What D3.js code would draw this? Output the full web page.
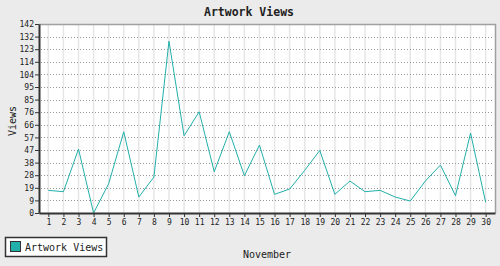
<!DOCTYPE html>
<html>
<head>
<meta charset="utf-8">
<script src="https://cdn.jsdelivr.net/npm/d3@7"></script>
<style>
  body { margin: 0; background: #ebebeb; }
  svg { display: block; }
  text { font-family: "DejaVu Sans Mono", monospace; fill: #222; }
</style>
</head>
<body>
<svg id="chart" width="500" height="266"></svg>
<script>
const days = d3.range(1, 31);
const views = [17, 16, 48, 0, 22, 61, 12, 27, 129, 58, 76, 31, 61, 28, 51,
               14, 18, 32, 47, 14, 24, 16, 17, 12, 9, 24, 36, 13, 60, 8];
const seriesName = "Artwork Views";
const chartTitle = "Artwork Views";
const xTitle = "November";
const yTitle = "Views";
const yTickCount = 15;

const width = 500, height = 266;
const plot = { left: 39, top: 24, right: 495, bottom: 213 };
const lineColor = "#22b0ab";

const svg = d3.select("#chart");

svg.append("rect")
  .attr("width", width).attr("height", height)
  .attr("fill", "#ebebeb");

svg.append("rect")
  .attr("x", plot.left).attr("y", plot.top)
  .attr("width", plot.right - plot.left)
  .attr("height", plot.bottom - plot.top)
  .attr("fill", "#fff");

var x = d3.scalePoint()
  .domain(days)
  .range([plot.left, plot.right])
  .padding(0.62);

// top of the axis is 10% above the largest value
var yMax = d3.max(views) * 1.1;
var y = d3.scaleLinear()
  .domain([0, yMax])
  .range([plot.bottom, plot.top]);
var yTicks = d3.range(yTickCount + 1).map(i => yMax * i / yTickCount);

// vertical grid
svg.append("g")
  .selectAll("line")
  .data(days)
  .enter()
  .append("line")
  .attr("x1", d => x(d)).attr("x2", d => x(d))
  .attr("y1", plot.top).attr("y2", plot.bottom)
  .attr("stroke", "#e6e6e6")
  .attr("stroke-width", 1.5);

// horizontal dotted grid
svg.append("g")
  .selectAll("line")
  .data(yTicks.slice(1, -1))
  .enter()
  .append("line")
  .attr("x1", plot.left + 2).attr("x2", plot.right - 3)
  .attr("y1", d => Math.round(y(d)) + 0.5).attr("y2", d => Math.round(y(d)) + 0.5)
  .attr("stroke", "#999")
  .attr("stroke-dasharray", "1,2");

// frame: top and right in grey
svg.append("path")
  .attr("d", `M${plot.left},${plot.top + 0.5}H${plot.right + 0.5}V${plot.bottom}`)
  .attr("fill", "none")
  .attr("stroke", "#a0a0a0")
  .attr("stroke-width", 1.5);

// the series
var line = d3.line()
  .x((d, i) => x(days[i]))
  .y(d => y(d));

svg.append("path")
  .datum(views)
  .attr("d", line)
  .attr("fill", "none")
  .attr("stroke", lineColor)
  .attr("stroke-width", 1);

// axes
var yAxis = svg.append("g")
  .attr("transform", `translate(${plot.left},0)`)
  .call(d3.axisLeft(y).tickValues(yTicks).tickFormat(d3.format(".0f")).tickSize(4).tickSizeOuter(0));

var xAxis = svg.append("g")
  .attr("transform", `translate(0,${plot.bottom})`)
  .call(d3.axisBottom(x).tickSize(4).tickSizeOuter(0));

[yAxis, xAxis].forEach(function(g) {
  g.select(".domain").attr("stroke", "#333").attr("stroke-width", 2);
  g.selectAll(".tick line").attr("stroke", "#333");
  g.selectAll("text")
    .style("font-family", '"DejaVu Sans Mono", monospace')
    .style("font-size", "8px")
    .attr("fill", "#222");
});
yAxis.selectAll("text").attr("x", -5).attr("dy", "0.33em");
xAxis.selectAll("text").attr("y", 6).attr("dy", "0.71em");

// titles
svg.append("text")
  .attr("x", 249).attr("y", 16)
  .attr("text-anchor", "middle")
  .style("font-size", "11.5px")
  .style("font-weight", "bold")
  .text(chartTitle);

svg.append("text")
  .attr("x", 267).attr("y", 258)
  .attr("text-anchor", "middle")
  .style("font-size", "10px")
  .text(xTitle);

svg.append("text")
  .attr("transform", "translate(16,121) rotate(-90)")
  .attr("text-anchor", "middle")
  .style("font-size", "10px")
  .text(yTitle);

// legend
var legend = svg.append("g");
legend.append("rect")
  .attr("x", 5.5).attr("y", 237.5)
  .attr("width", 101).attr("height", 19)
  .attr("fill", "#fff")
  .attr("stroke", "#333")
  .attr("stroke-width", 1.5);
legend.append("rect")
  .attr("x", 10.5).attr("y", 241.5)
  .attr("width", 10).attr("height", 10)
  .attr("fill", lineColor)
  .attr("stroke", "#333");
legend.append("text")
  .attr("x", 25).attr("y", 251)
  .style("font-size", "10px")
  .text(seriesName);
</script>
</body>
</html>
